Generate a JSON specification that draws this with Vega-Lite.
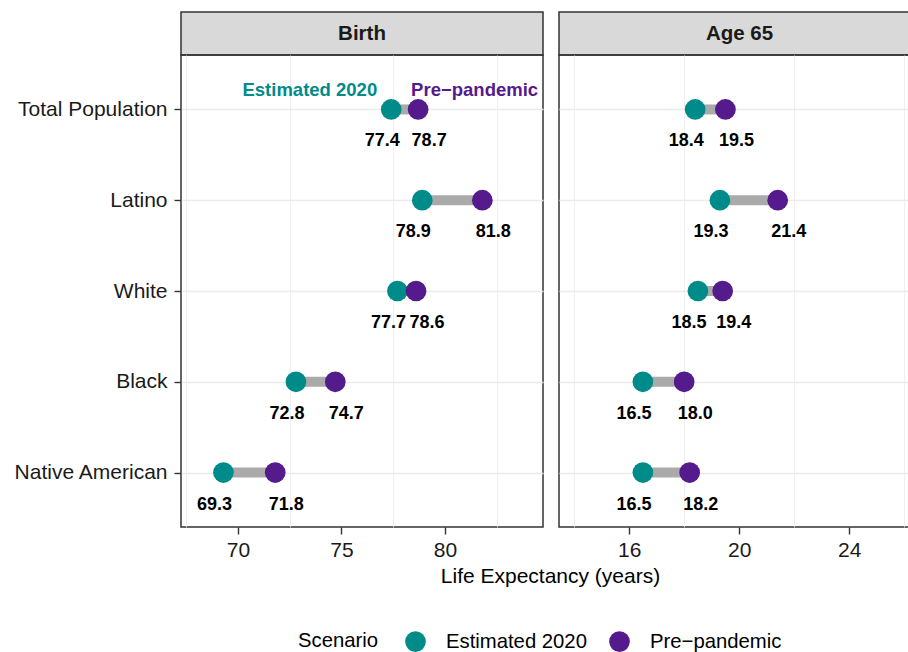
{
  "$schema": "https://vega.github.io/schema/vega-lite/v6.json",
  "padding": {"left": 12, "top": 11, "right": 0, "bottom": 0},
  "bounds": "flush",
  "columns": 2,
  "spacing": {"row": 0, "column": 16},
  "datasets": {
    "le": [
      {"measure": "Birth", "group": "Total Population", "scenario": "Estimated 2020", "value": 77.4},
      {"measure": "Birth", "group": "Total Population", "scenario": "Pre−pandemic", "value": 78.7},
      {"measure": "Birth", "group": "Latino", "scenario": "Estimated 2020", "value": 78.9},
      {"measure": "Birth", "group": "Latino", "scenario": "Pre−pandemic", "value": 81.8},
      {"measure": "Birth", "group": "White", "scenario": "Estimated 2020", "value": 77.7},
      {"measure": "Birth", "group": "White", "scenario": "Pre−pandemic", "value": 78.6},
      {"measure": "Birth", "group": "Black", "scenario": "Estimated 2020", "value": 72.8},
      {"measure": "Birth", "group": "Black", "scenario": "Pre−pandemic", "value": 74.7},
      {"measure": "Birth", "group": "Native American", "scenario": "Estimated 2020", "value": 69.3},
      {"measure": "Birth", "group": "Native American", "scenario": "Pre−pandemic", "value": 71.8},
      {"measure": "Age 65", "group": "Total Population", "scenario": "Estimated 2020", "value": 18.4},
      {"measure": "Age 65", "group": "Total Population", "scenario": "Pre−pandemic", "value": 19.5},
      {"measure": "Age 65", "group": "Latino", "scenario": "Estimated 2020", "value": 19.3},
      {"measure": "Age 65", "group": "Latino", "scenario": "Pre−pandemic", "value": 21.4},
      {"measure": "Age 65", "group": "White", "scenario": "Estimated 2020", "value": 18.5},
      {"measure": "Age 65", "group": "White", "scenario": "Pre−pandemic", "value": 19.4},
      {"measure": "Age 65", "group": "Black", "scenario": "Estimated 2020", "value": 16.5},
      {"measure": "Age 65", "group": "Black", "scenario": "Pre−pandemic", "value": 18.0},
      {"measure": "Age 65", "group": "Native American", "scenario": "Estimated 2020", "value": 16.5},
      {"measure": "Age 65", "group": "Native American", "scenario": "Pre−pandemic", "value": 18.2}
    ],
    "strips": [{"measure": "Birth"}, {"measure": "Age 65"}]
  },
  "config": {
    "font": "Liberation Sans",
    "view": {"stroke": "#333333", "strokeWidth": 1.5},
    "axis": {
      "labelFontSize": 21,
      "labelColor": "#1a1a1a",
      "titleFontSize": 21,
      "titleFontWeight": "normal",
      "titleColor": "#000000",
      "tickColor": "#333333",
      "tickSize": 7,
      "tickWidth": 1.4,
      "gridColor": "#EBEBEB",
      "gridWidth": 1.4,
      "domain": false,
      "labelPadding": 5
    },
    "legend": {
      "orient": "none",
      "legendX": 117,
      "legendY": 619,
      "direction": "horizontal",
      "titleOrient": "left",
      "titleFontSize": 20.3,
      "titleFontWeight": "normal",
      "titleColor": "#000000",
      "labelFontSize": 20.3,
      "labelColor": "#000000",
      "symbolSize": 430,
      "symbolType": "circle",
      "symbolStrokeWidth": 0,
      "labelOffset": 20,
      "columnPadding": 22,
      "titlePadding": 26
    }
  },
  "concat": [
    {
      "width": 362,
      "height": 43,
      "data": {"name": "strips"},
      "transform": [{"filter": "datum.measure === 'Birth'"}],
      "view": {"fill": "#D9D9D9", "stroke": "#333333", "strokeWidth": 1.5},
      "mark": {"type": "text", "fontSize": 20.5, "fontWeight": "bold", "color": "#1a1a1a", "baseline": "middle"},
      "encoding": {"text": {"field": "measure"}}
    },
    {
      "width": 351,
      "height": 43,
      "data": {"name": "strips"},
      "transform": [{"filter": "datum.measure === 'Age 65'"}],
      "view": {"fill": "#D9D9D9", "stroke": "#333333", "strokeWidth": 1.5},
      "mark": {"type": "text", "fontSize": 20.5, "fontWeight": "bold", "color": "#1a1a1a", "baseline": "middle", "dx": 5},
      "encoding": {"text": {"field": "measure"}}
    },
    {
      "width": 362,
      "height": 472,
      "data": {"name": "le"},
      "transform": [{"filter": "datum.measure === 'Birth'"}],
      "encoding": {
        "y": {
          "field": "group",
          "type": "nominal",
          "scale": {"type": "point", "domain": ["Total Population", "Latino", "White", "Black", "Native American"], "padding": 0.6},
          "axis": {"title": null, "labelFontSize": 21, "labelPadding": 7, "grid": true}
        }
      },
      "resolve": {"axis": {"x": "independent"}},
      "layer": [
        {
          "mark": {"type": "line", "color": "#AAAAAA", "strokeWidth": 10},
          "encoding": {
            "x": {
              "field": "value",
              "type": "quantitative",
              "scale": {"domain": [67.25, 84.73], "nice": false, "zero": false},
              "axis": {"orient": "bottom", "values": [67.5, 72.5, 77.5, 82.5], "labels": false, "ticks": false, "title": null, "gridWidth": 0.8}
            },
            "detail": {"field": "group"}
          }
        },
        {
          "mark": {"type": "circle", "size": 430, "opacity": 1},
          "encoding": {
            "x": {
              "field": "value",
              "type": "quantitative",
              "axis": {"orient": "bottom", "values": [70, 75, 80], "title": "Life Expectancy (years)", "titleX": 369, "titlePadding": 5}
            },
            "color": {
              "field": "scenario",
              "type": "nominal",
              "scale": {"domain": ["Estimated 2020", "Pre−pandemic"], "range": ["#008B8B", "#551A8B"]},
              "legend": {"title": "Scenario"}
            }
          }
        },
        {
          "transform": [{"filter": "datum.scenario === 'Estimated 2020'"}],
          "mark": {"type": "text", "fontSize": 18, "fontWeight": "bold", "color": "#000000", "dy": 32, "dx": -9},
          "encoding": {
            "x": {"field": "value", "type": "quantitative", "axis": null},
            "text": {"field": "value", "type": "quantitative", "format": ".1f"}
          }
        },
        {
          "transform": [{"filter": "datum.scenario !== 'Estimated 2020'"}],
          "mark": {"type": "text", "fontSize": 18, "fontWeight": "bold", "color": "#000000", "dy": 32, "dx": 11},
          "encoding": {
            "x": {"field": "value", "type": "quantitative", "axis": null},
            "text": {"field": "value", "type": "quantitative", "format": ".1f"}
          }
        },
        {
          "transform": [{"filter": "datum.group === 'Total Population' && datum.scenario === 'Estimated 2020'"}],
          "mark": {"type": "text", "fontSize": 18.5, "fontWeight": "bold", "color": "#008B8B", "dy": -19, "dx": -14, "align": "right"},
          "encoding": {
            "x": {"field": "value", "type": "quantitative", "axis": null},
            "text": {"field": "scenario"}
          }
        },
        {
          "transform": [{"filter": "datum.group === 'Total Population' && datum.scenario !== 'Estimated 2020'"}],
          "mark": {"type": "text", "fontSize": 18.5, "fontWeight": "bold", "color": "#551A8B", "dy": -19, "dx": -7, "align": "left"},
          "encoding": {
            "x": {"field": "value", "type": "quantitative", "axis": null},
            "text": {"field": "scenario"}
          }
        }
      ]
    },
    {
      "width": 351,
      "height": 472,
      "data": {"name": "le"},
      "transform": [{"filter": "datum.measure === 'Age 65'"}],
      "encoding": {
        "y": {
          "field": "group",
          "type": "nominal",
          "scale": {"type": "point", "domain": ["Total Population", "Latino", "White", "Black", "Native American"], "padding": 0.6},
          "axis": {"title": null, "labels": false, "ticks": false, "grid": true, "minExtent": 0}
        }
      },
      "resolve": {"axis": {"x": "independent"}},
      "layer": [
        {
          "mark": {"type": "line", "color": "#AAAAAA", "strokeWidth": 10},
          "encoding": {
            "x": {
              "field": "value",
              "type": "quantitative",
              "scale": {"domain": [13.45, 26.21], "nice": false, "zero": false},
              "axis": {"orient": "bottom", "values": [14, 18, 22, 26], "labels": false, "ticks": false, "title": null, "gridWidth": 0.8}
            },
            "detail": {"field": "group"}
          }
        },
        {
          "mark": {"type": "circle", "size": 430, "opacity": 1},
          "encoding": {
            "x": {
              "field": "value",
              "type": "quantitative",
              "axis": {"orient": "bottom", "values": [16, 20, 24], "title": null}
            },
            "color": {"field": "scenario", "type": "nominal"}
          }
        },
        {
          "transform": [{"filter": "datum.scenario === 'Estimated 2020'"}],
          "mark": {"type": "text", "fontSize": 18, "fontWeight": "bold", "color": "#000000", "dy": 32, "dx": -9},
          "encoding": {
            "x": {"field": "value", "type": "quantitative", "axis": null},
            "text": {"field": "value", "type": "quantitative", "format": ".1f"}
          }
        },
        {
          "transform": [{"filter": "datum.scenario !== 'Estimated 2020'"}],
          "mark": {"type": "text", "fontSize": 18, "fontWeight": "bold", "color": "#000000", "dy": 32, "dx": 11},
          "encoding": {
            "x": {"field": "value", "type": "quantitative", "axis": null},
            "text": {"field": "value", "type": "quantitative", "format": ".1f"}
          }
        }
      ]
    }
  ]
}
